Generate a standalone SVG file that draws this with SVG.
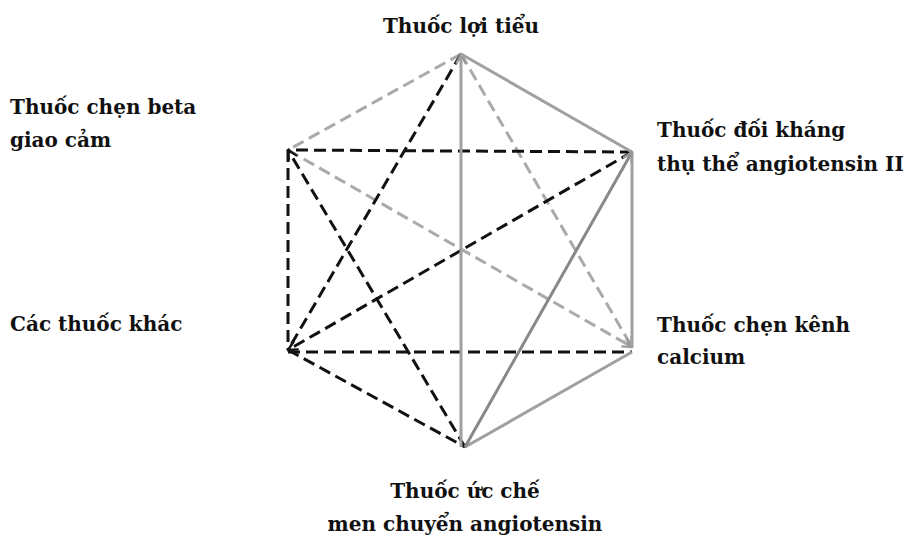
<svg xmlns="http://www.w3.org/2000/svg" width="914" height="539" viewBox="0 0 914 539">
<style>
.t{font-family:'DejaVu Serif','Liberation Serif',serif;font-weight:700;font-size:20px;fill:#111}
.bk{stroke:#111;stroke-width:3;stroke-dasharray:12 6;fill:none}
.lg{stroke:#aaa;stroke-width:3;stroke-dasharray:12 6;fill:none}
.gs{stroke:#a0a0a0;stroke-width:3;fill:none}
.gd{stroke:#888;stroke-width:3;fill:none}
</style>
<defs>
<marker id="ab" viewBox="0 0 10 10" refX="9" refY="5" markerWidth="4" markerHeight="4" orient="auto"><path d="M1,1 L9,5 L1,9" fill="none" stroke="#111" stroke-width="2"/></marker>
<marker id="ag" viewBox="0 0 10 10" refX="9" refY="5" markerWidth="4" markerHeight="4" orient="auto"><path d="M1,1 L9,5 L1,9" fill="none" stroke="#999" stroke-width="2"/></marker>
</defs>
<rect width="914" height="539" fill="#fff"/>
<g id="connectors">
<line class="lg" x1="461" y1="54" x2="288" y2="150"/>
<line class="lg" x1="461" y1="54" x2="632" y2="347" marker-end="url(#ag)"/>
<line class="lg" x1="288" y1="150" x2="632" y2="347" marker-end="url(#ag)"/>
<line class="bk" x1="461" y1="54" x2="288" y2="350"/>
<line class="bk" x1="632" y1="152" x2="288" y2="150"/>
<line class="bk" x1="288" y1="150" x2="288" y2="350"/>
<line class="bk" x1="465" y1="447" x2="288" y2="150" marker-end="url(#ab)"/>
<line class="bk" x1="632" y1="152" x2="288" y2="350" marker-end="url(#ab)"/>
<line class="bk" x1="288" y1="352" x2="632" y2="352"/>
<line class="bk" x1="288" y1="350" x2="465" y2="447"/>
<line class="gs" x1="461" y1="447" x2="461" y2="54" marker-end="url(#ag)"/>
<line class="gs" x1="461" y1="54" x2="632" y2="152"/>
<line class="gs" x1="632" y1="152" x2="632" y2="347"/>
<line class="gs" x1="465" y1="447" x2="632" y2="352"/>
<line class="gd" x1="465" y1="447" x2="632" y2="152" marker-end="url(#ag)"/>
</g>
<g id="n-loitieu"><text class="t" x="461" y="33" text-anchor="middle">Thuốc lợi tiểu</text></g>
<g id="n-beta"><text class="t" x="10" y="114">Thuốc chẹn beta</text><text class="t" x="10" y="147">giao cảm</text></g>
<g id="n-arb"><text class="t" x="657" y="137">Thuốc đối kháng</text><text class="t" x="657" y="171">thụ thể angiotensin II</text></g>
<g id="n-khac"><text class="t" x="10" y="331">Các thuốc khác</text></g>
<g id="n-ccb"><text class="t" x="657" y="332">Thuốc chẹn kênh</text><text class="t" x="657" y="364">calcium</text></g>
<g id="n-ace"><text class="t" x="465" y="498" text-anchor="middle">Thuốc ức chế</text><text class="t" x="465" y="531" text-anchor="middle">men chuyển angiotensin</text></g>
</svg>
